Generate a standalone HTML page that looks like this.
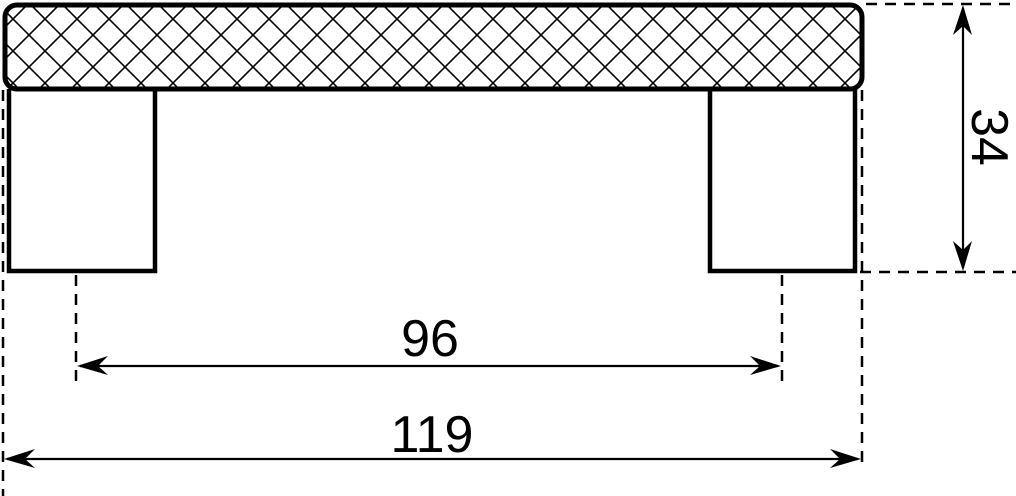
<!DOCTYPE html>
<html><head><style>body{margin:0;background:#fff}svg{display:block}</style></head><body>
<svg width="1016" height="496" viewBox="0 0 1016 496" xmlns="http://www.w3.org/2000/svg">
<defs>
<pattern id="h" width="32" height="32" patternUnits="userSpaceOnUse" x="-3" y="3">
<path d="M0 0L32 32M32 0L0 32" stroke="#000" stroke-width="1.6" fill="none"/>
</pattern>
<clipPath id="c"><rect x="5" y="5" width="857" height="84" rx="12"/></clipPath>
</defs>
<rect x="5" y="5" width="857" height="84" fill="url(#h)" clip-path="url(#c)"/>
<rect x="5" y="5" width="857" height="84" rx="12" fill="none" stroke="#000" stroke-width="5"/>
<path d="M9 89V271H155V89M710 89V271H855V89" fill="none" stroke="#000" stroke-width="4.5"/>
<g stroke="#000" stroke-width="2.5" stroke-dasharray="11,8" fill="none">
<path d="M3 90V496"/><path d="M862 90V470"/>
<path d="M76 275V386"/><path d="M782 275V386"/>
<path d="M866 4H1016"/><path d="M860 272H1016"/>
</g>
<g stroke="#000" stroke-width="2.2">
<path d="M80 366H778"/><path d="M7 459H858"/><path d="M963 8V268"/>
</g>
<g fill="#000">
<path d="M77 366L108 356L98 366L108 375Z"/>
<path d="M781 366L750 356L760 366L750 375Z"/>
<path d="M4 459L35 449L25 459L35 468Z"/>
<path d="M861 459L830 449L840 459L830 468Z"/>
<path d="M963 5L953 35L963 26L972 35Z"/>
<path d="M963 271L953 241L963 250L972 241Z"/>
</g>
<g font-family="Liberation Sans, sans-serif" font-size="52" fill="#000" text-anchor="middle">
<text x="430" y="356">96</text>
<text x="432" y="452">119</text>
<text transform="translate(972,137) rotate(90)">34</text>
</g>
</svg>
</body></html>
